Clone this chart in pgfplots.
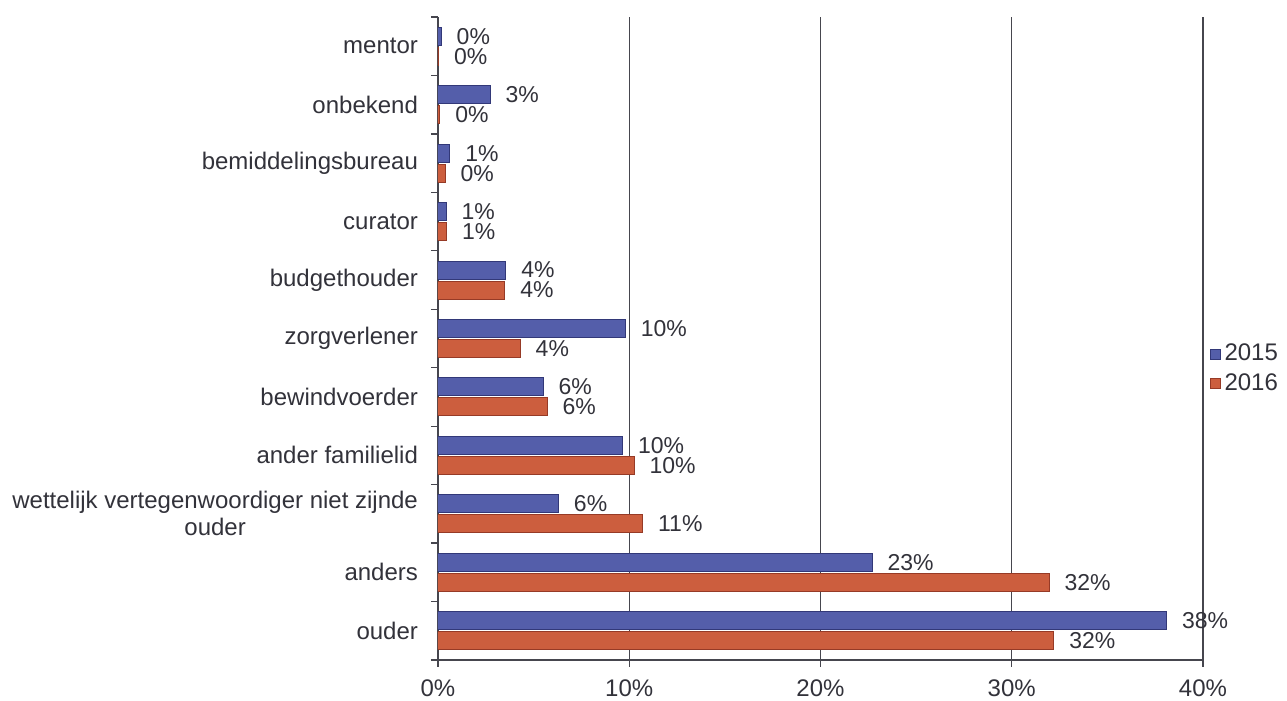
\documentclass[border=0pt]{standalone}
\usepackage{pgfplots}
\pgfplotsset{compat=1.18}
\usepackage{fontspec}
\setmainfont{Liberation Sans}
\definecolor{bmid}{RGB}{84,94,170}
\definecolor{bbot}{RGB}{50,56,120}
\definecolor{rmid}{RGB}{204,94,62}
\definecolor{rbot}{RGB}{150,58,38}
\definecolor{txt}{RGB}{50,50,58}
\definecolor{gridc}{RGB}{70,70,78}
\begin{document}
\begin{tikzpicture}
\useasboundingbox (-219pt,-20.5pt) rectangle (424.5pt,330pt);
\begin{axis}[
  scale only axis, width=382.5pt, height=321.5pt,
  xbar, bar width=9pt,
  xmin=0, xmax=40, ymin=-0.5, ymax=10.5,
  xtick={0,10,20,30,40},
  xticklabels={0\%,10\%,20\%,30\%,40\%},
  ytick={0,...,10},
  yticklabels={ouder,anders,{wettelijk vertegenwoordiger niet zijnde\\ouder},ander familielid,bewindvoerder,zorgverlener,budgethouder,curator,bemiddelingsbureau,onbekend,mentor},
  minor ytick={-0.5,0.5,...,10.5},
  tick align=outside,
  major tick length=3.5pt, minor tick length=3.5pt,
  major y tick style={draw=none},
  minor y tick style={gridc, line width=0.6pt},
  major x tick style={gridc, line width=0.6pt},
  axis x line*=bottom, axis y line*=left,
  axis line style={gridc, line width=0.6pt},
  xmajorgrids, major grid style={gridc, line width=0.6pt},
  yticklabel style={align=center, font=\fontsize{12}{13.5}\selectfont, text=txt, xshift=-3pt},
  xticklabel style={font=\fontsize{12}{13.5}\selectfont, text=txt, yshift=-3pt},
  nodes near coords,
  point meta=explicit symbolic,
  every node near coord/.append style={anchor=west, xshift=7.5pt, font=\fontsize{11.5}{12}\selectfont, text=txt, inner sep=0pt},
  legend style={at={(1.008,0.4526)}, anchor=west, draw=none, fill=none, font=\fontsize{12}{13.5}\selectfont, text=txt, row sep=1pt, inner sep=0pt},
  legend image code/.code={\fill[#1] (0pt,-2.5pt) rectangle (5pt,2.5pt);},
  legend cell align=left,
]
\addplot[bar shift=5pt, draw=bbot, line width=0.5pt, fill=bmid] table[meta=l] {
x y l
38.1 0 38\%
22.7 1 23\%
6.3 2 6\%
9.65 3 10\%
5.5 4 6\%
9.8 5 10\%
3.55 6 4\%
0.42 7 1\%
0.62 8 1\%
2.72 9 3\%
0.17 10 0\%
};
\addplot[bar shift=-5pt, draw=rbot, line width=0.5pt, fill=rmid] table[meta=l] {
x y l
32.2 0 32\%
31.95 1 32\%
10.7 2 11\%
10.25 3 10\%
5.7 4 6\%
4.3 5 4\%
3.5 6 4\%
0.45 7 1\%
0.37 8 0\%
0.1 9 0\%
0.03 10 0\%
};
\legend{2015,2016}
\end{axis}
\end{tikzpicture}
\end{document}
